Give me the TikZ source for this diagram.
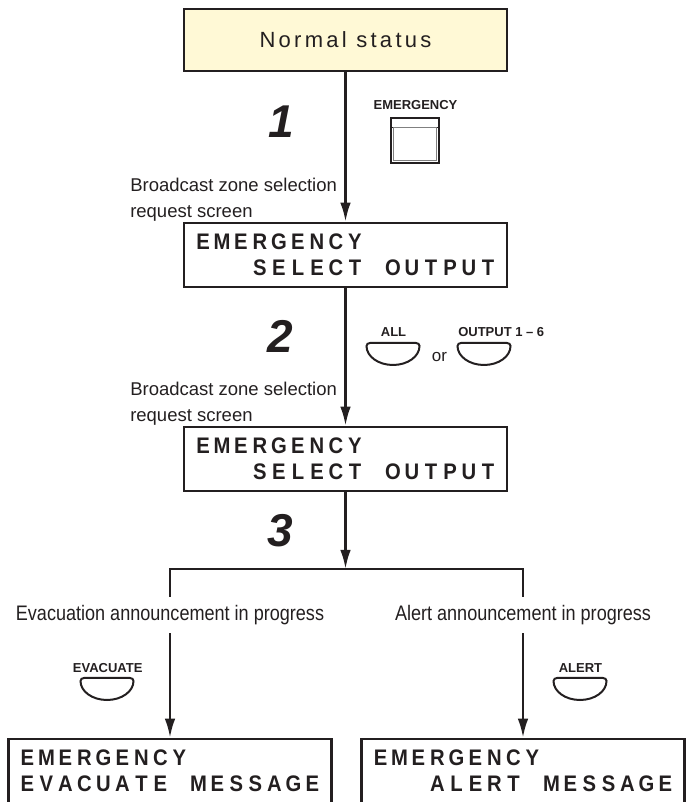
\documentclass[tikz,border=0pt]{standalone}
\usepackage{fontspec}
\setmainfont{Liberation Sans}
\newfontfamily\lcdfont{Liberation Sans}[FakeStretch=0.9]
\newfontfamily\condfont{Liberation Sans}[FakeStretch=0.86]
\newfontfamily\spacedfont{Liberation Sans}[LetterSpace=15]
\usetikzlibrary{arrows.meta}

\definecolor{ink}{RGB}{35,31,32}
\definecolor{statusfill}{RGB}{255,249,214}

\makeatletter
\newcommand{\lcdline}[1]{\@tfor\lcdch:=#1\do{\makebox[19pt]{\lcdch}}}
\makeatother

\tikzset{
  lcd/.style={draw, minimum width=323pt, minimum height=64pt, inner sep=0pt, align=left,
    font=\lcdfont\bfseries\fontsize{22.5}{26}\selectfont},
  keylabel/.style={font=\bfseries\fontsize{13}{15}\selectfont, inner sep=0pt},
  steplabel/.style={font=\bfseries\itshape\fontsize{46}{50}\selectfont, inner sep=0pt},
  note/.style={font=\condfont\fontsize{21}{24}\selectfont, inner sep=0pt, minimum height=34pt},
  softkey/.pic={
    \draw[line width=2pt] (-23,0) -- (23,0) to[out=0,in=90] (26.5,-3)
      arc[start angle=0, end angle=-180, x radius=26.5, y radius=19]
      to[out=90,in=180] (-23,0) -- cycle;
  }
}

\begin{document}
\begin{tikzpicture}[x=1pt, y=1pt, color=ink, line width=2.5pt, >={Latex[length=19pt,width=10.5pt]}]
  \clip (0,0) rectangle (688,802);
  % screens
  \node[draw, fill=statusfill, minimum width=323pt, minimum height=62pt,
    font=\spacedfont\fontsize{22}{26}\selectfont] (normal) at (345.5,762) {Normal status};
  \node[lcd] (select1) at (345.5,547) {\lcdline{EMERGENCY}\\\lcdline{~~~SELECT~OUTPUT}};
  \node[lcd] (select2) at (345.5,343) {\lcdline{EMERGENCY}\\\lcdline{~~~SELECT~OUTPUT}};
  \node[lcd] (evacmsg) at (170,31) {\lcdline{EMERGENCY}\\\lcdline{EVACUATE~MESSAGE}};
  \node[lcd] (alertmsg) at (523,31) {\lcdline{EMERGENCY}\\\lcdline{~~~ALERT~MESSAGE}};

  % steps
  \node[steplabel] (step1) at (281,680) {1};
  \node[steplabel] (step2) at (280,466) {2};
  \node[steplabel] (step3) at (280,271) {3};
  \node[anchor=north west, align=left, inner sep=0pt, font=\fontsize{18.5}{26}\selectfont]
    (zone1) at (129,625) {Broadcast zone selection\\request screen};
  \node[anchor=north west, align=left, inner sep=0pt, font=\fontsize{18.5}{26}\selectfont]
    (zone2) at (129,421) {Broadcast zone selection\\request screen};

  % keys
  \node[keylabel] (emerkey) at (415.5,697) {EMERGENCY};
  \draw[line width=2.4pt] (391,639) rectangle (439,684);
  \draw[line width=1.3pt] (391,674.5) -- (439,674.5);
  \draw[line width=0.7pt, gray] (393.8,641.8) rectangle (436.2,674.5);
  \node[keylabel] (allkey) at (393.5,470) {ALL};
  \pic at (393,459) {softkey};
  \node[inner sep=0pt, font=\fontsize{17}{20}\selectfont] (or) at (439.5,445) {or};
  \node[keylabel, anchor=west] (outkey) at (457,470) {OUTPUT 1 – 6};
  \pic at (484,459) {softkey};
  \node[keylabel] (evackey) at (107.7,134) {EVACUATE};
  \pic at (107,124) {softkey};
  \node[keylabel] (alertkey) at (580.5,134) {ALERT};
  \pic at (580,124) {softkey};

  % branches
  \node[note] (evacnote) at (170,187) {Evacuation announcement in progress};
  \node[note] (alertnote) at (523,187) {Alert announcement in progress};
  \coordinate (fork) at (345.5,233);

  \draw[->] (normal) -- (select1);
  \draw[->] (select1) -- (select2);
  \draw[->] (select2) -- (fork);
  \draw (evacnote) |- (fork) -| (alertnote);
  \draw[->] (evacnote) -- (evacmsg);
  \draw[->] (alertnote) -- (alertmsg);
\end{tikzpicture}
\end{document}
